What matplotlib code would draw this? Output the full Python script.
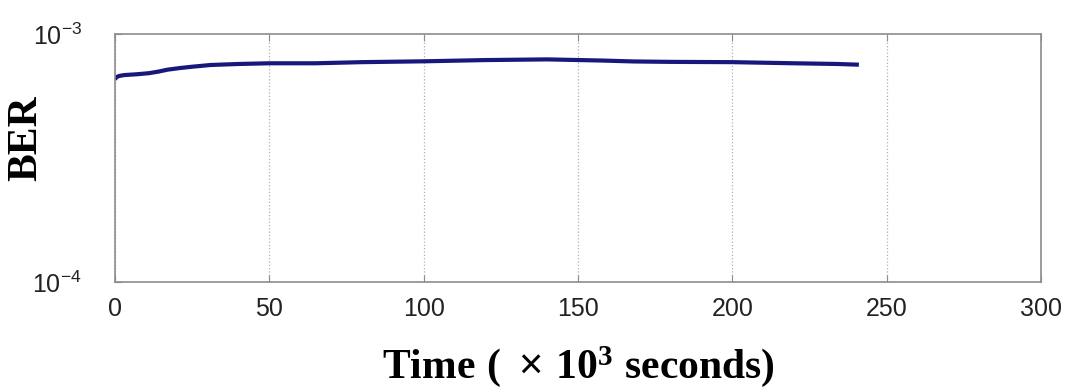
import matplotlib
matplotlib.use("Agg")
import matplotlib.pyplot as plt
from matplotlib.ticker import FixedLocator, NullLocator

plt.rcParams["mathtext.fontset"] = "custom"
plt.rcParams["mathtext.rm"] = "Liberation Sans"
plt.rcParams["mathtext.it"] = "Liberation Sans"
plt.rcParams["mathtext.bf"] = "Liberation Serif:bold"
plt.rcParams["mathtext.fallback"] = "cm"

# BER measured over time (time in units of 1e3 s)
time_ks = [0, 0.4, 1.5, 3, 7, 11, 14, 17, 21, 25, 31, 40, 50, 65, 80, 100,
           120, 140, 157, 168, 180, 200, 220, 234, 241]
ber = [6.55e-4, 6.70e-4, 6.78e-4, 6.83e-4, 6.88e-4, 6.95e-4, 7.05e-4, 7.18e-4,
       7.29e-4, 7.38e-4, 7.50e-4, 7.57e-4, 7.62e-4, 7.62e-4, 7.70e-4, 7.76e-4,
       7.85e-4, 7.90e-4, 7.82e-4, 7.75e-4, 7.72e-4, 7.70e-4, 7.62e-4, 7.57e-4, 7.52e-4]

x_ticks = [0, 50, 100, 150, 200, 250, 300]
y_ticks = [1e-4, 1e-3]
y_tick_labels = [r"$\mathregular{10^{-4}}$", r"$\mathregular{10^{-3}}$"]

fig = plt.figure(figsize=(10.66, 3.89), dpi=100)
ax = fig.add_axes([115/1066, 1 - 282/389, (1041 - 115)/1066, (282 - 34)/389])

ax.plot(time_ks, ber, color="#18187c", lw=3.0, solid_capstyle="butt")

ax.set_yscale("log")
ax.set_ylim(1e-4, 1e-3)
ax.set_xlim(0, 300)
ax.xaxis.set_major_locator(FixedLocator(x_ticks))
ax.yaxis.set_major_locator(FixedLocator(y_ticks))
ax.yaxis.set_minor_locator(NullLocator())
ax.set_yticklabels(y_tick_labels)

ax.grid(axis="x", color="#b0b0b0", ls=":", lw=0.9)
for s in ax.spines.values():
    s.set_color("#8c8c8c")
    s.set_linewidth(1.2)
ax.tick_params(direction="in", length=5, color="#8c8c8c", top=True, right=False,
               labelcolor="#222222")
ax.tick_params(axis="x", pad=11)
ax.tick_params(axis="y", pad=24)
for lab in ax.get_xticklabels() + ax.get_yticklabels():
    lab.set_fontfamily("Liberation Sans")
    lab.set_fontsize(18)

ax.set_xlabel(r"$\mathbf{Time\ (\ }\times\mathbf{\,10^{3}\ seconds)}$", fontsize=30)
ax.xaxis.set_label_coords(0.5, -0.385)
ax.xaxis.label.set_verticalalignment("baseline")
ax.set_ylabel("BER", family="Liberation Serif", fontweight="bold", fontsize=30)
ax.yaxis.set_label_coords(-0.0756, 0.58)

fig.savefig("out.png", dpi=100)
